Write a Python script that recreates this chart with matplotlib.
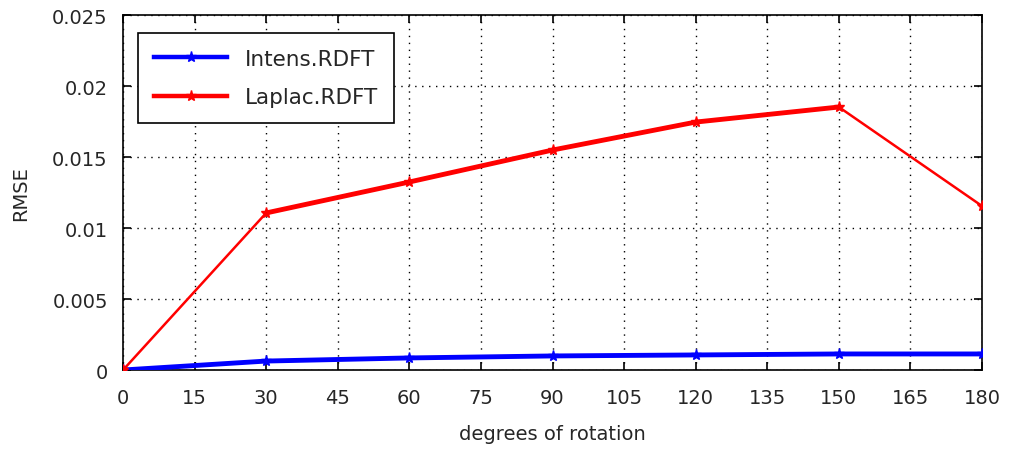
import matplotlib
matplotlib.use("Agg")
import matplotlib.pyplot as plt

# data
degrees = [0, 30, 60, 90, 120, 150, 180]
intens_rdft = [0.0, 0.00063, 0.00085, 0.00099, 0.00106, 0.00113, 0.00113]
laplac_rdft = [0.0, 0.01106, 0.01324, 0.01549, 0.01746, 0.01852, 0.01155]
xticks = list(range(0, 181, 15))
yticks = [0, 0.005, 0.01, 0.015, 0.02, 0.025]
ytick_labels = ["0", "0.005", "0.01", "0.015", "0.02", "0.025"]

plt.rcParams["font.family"] = "DejaVu Sans"
plt.rcParams["font.size"] = 14

fig = plt.figure(figsize=(10.11, 4.52), dpi=100)
ax = fig.add_axes([0.1217, 0.1792, 0.8496, 0.7854])

ax.plot(degrees, intens_rdft, color="#0000ff", lw=3.5, marker="*", ms=8,
        label="Intens.RDFT", zorder=3)
ax.plot(degrees, laplac_rdft, color="#ff0000", lw=1.8, marker="*", ms=8,
        label="Laplac.RDFT", zorder=3)
# the middle stretch of the red line is drawn thicker in the original
ax.plot(degrees[1:6], laplac_rdft[1:6], color="#ff0000", lw=3.5, zorder=3)

ax.set_xlim(0, 180)
ax.set_ylim(0, 0.025)
ax.set_xticks(xticks)
ax.set_yticks(yticks)
ax.set_yticklabels(ytick_labels)
ax.grid(True, color="black", linestyle=(0, (1, 4)), linewidth=1.0)
ax.tick_params(direction="in", top=True, right=True, length=6, width=1.2,
               colors="black", labelcolor="#262626")
ax.tick_params(axis="x", pad=13)
ax.tick_params(axis="y", pad=11)
for s in ax.spines.values():
    s.set_linewidth(1.2)

ax.set_xlabel("degrees of rotation", color="#262626", labelpad=12)
ax.set_ylabel("RMSE", color="#262626", labelpad=16)

leg = ax.legend(loc="upper left", bbox_to_anchor=(0.005, 0.98), fancybox=False,
                edgecolor="black", framealpha=1, handlelength=3.4,
                borderpad=0.75, labelspacing=0.85, handletextpad=0.8, fontsize=15.5)
leg.get_frame().set_linewidth(1.2)
for t in leg.get_texts():
    t.set_color("#262626")
for h in leg.legend_handles:
    h.set_linewidth(3.2)

fig.savefig("out.png", dpi=100)
